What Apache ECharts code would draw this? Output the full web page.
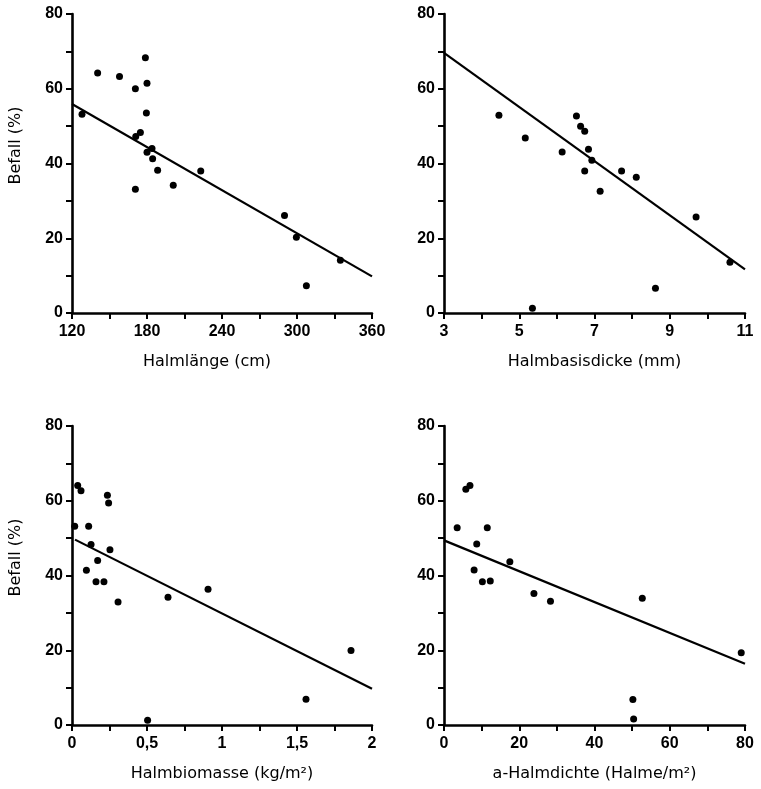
<!DOCTYPE html>
<html lang="de">
<head>
    <meta charset="UTF-8">
    <title>Befall</title>
    <style>
        html, body { margin: 0; padding: 0; background: #fff; }
        #chartContainer { width: 761px; height: 789px; }
    </style>
    <script src="https://cdnjs.cloudflare.com/ajax/libs/echarts/6.0.0/echarts.min.js"></script>
</head>
<body>
    <div id="chartContainer"></div>
    <script>
        // --- data ---
        const laengeX = [128, 140.5, 158, 170.7, 178.7, 180, 179.5, 171, 174.7, 180, 184, 184.5, 188.5, 170.7, 201, 223, 290, 299.5, 307.5, 334.7];
        const laengeY = [53.2, 64.2, 63.3, 60.0, 68.3, 61.5, 53.5, 47.2, 48.3, 43.0, 44.0, 41.3, 38.2, 33.1, 34.2, 38.0, 26.1, 20.3, 7.3, 14.1];
        const laengeFitX = [120, 360];
        const laengeFitY = [55.9, 9.8];

        const dickeX = [4.46, 5.16, 5.35, 6.14, 6.52, 6.63, 6.74, 6.84, 6.74, 6.93, 7.15, 7.72, 8.11, 8.62, 9.70, 10.6];
        const dickeY = [52.9, 46.8, 1.3, 43.1, 52.7, 50.0, 48.6, 43.8, 38.0, 40.9, 32.6, 38.0, 36.3, 6.6, 25.7, 13.6];
        const dickeFitX = [3, 11];
        const dickeFitY = [69.6, 11.7];

        const masseX = [0.018, 0.038, 0.06, 0.111, 0.127, 0.096, 0.171, 0.16, 0.213, 0.236, 0.244, 0.253, 0.307, 0.504, 0.64, 0.907, 1.56, 1.86];
        const masseY = [53.2, 64.1, 62.7, 53.2, 48.3, 41.4, 44.0, 38.3, 38.3, 61.5, 59.4, 46.9, 32.9, 1.3, 34.2, 36.3, 6.9, 19.9];
        const masseFitX = [0.02, 2];
        const masseFitY = [49.6, 9.7];

        const dichteX = [3.5, 5.8, 6.9, 8.7, 8.0, 10.2, 11.5, 12.3, 17.5, 23.9, 28.3, 50.2, 50.4, 52.7, 79.0];
        const dichteY = [52.8, 63.1, 64.1, 48.4, 41.5, 38.3, 52.8, 38.5, 43.7, 35.2, 33.1, 6.8, 1.6, 33.9, 19.3];
        const dichteFitX = [0, 80];
        const dichteFitY = [49.4, 16.4];

        const yTicks = [0, 20, 40, 60, 80];
        const xNames = ['Halmlänge (cm)', 'Halmbasisdicke (mm)', 'Halmbiomasse (kg/m²)', 'a-Halmdichte (Halme/m²)'];
        const yName = 'Befall (%)';

        const font = 'Liberation Sans';
        const titleFont = 'DejaVu Sans';

        function pairs(xs, ys) {
            return xs.map((x, i) => [x, ys[i]]);
        }

        const axisLine = { lineStyle: { color: '#000', width: 2.6 } };
        const axisTick = { inside: false, length: 6, lineStyle: { color: '#000', width: 2 } };

        // labels only every second tick
        function xAxis(idx, min, max, step, every, name, namePad, dec) {
            return {
                type: 'value', gridIndex: idx, min: min, max: max, interval: step,
                splitLine: { show: false },
                axisLine: axisLine, axisTick: axisTick,
                axisLabel: {
                    color: '#000', fontFamily: font, fontSize: 16, fontWeight: 'bold', margin: 11,
                    showMinLabel: true, showMaxLabel: true,
                    formatter: v => {
                        const k = Math.round((v - min) / step);
                        if (k % every !== 0) return '';
                        return dec ? String(+v.toFixed(2)).replace('.', ',') : String(v);
                    }
                },
                name: name, nameLocation: 'middle', nameGap: 41,
                nameTextStyle: { color: '#000', fontFamily: titleFont, fontSize: 16, padding: namePad }
            };
        }

        function yAxis(idx, withName) {
            return {
                type: 'value', gridIndex: idx, min: 0, max: 80, interval: 10,
                splitLine: { show: false },
                axisLine: axisLine, axisTick: axisTick,
                axisLabel: {
                    color: '#000', fontFamily: font, fontSize: 16, fontWeight: 'bold', margin: 9,
                    formatter: v => yTicks.indexOf(v) >= 0 ? String(v) : ''
                },
                name: withName ? yName : '', nameLocation: 'middle', nameGap: 48,
                nameTextStyle: { color: '#000', fontFamily: titleFont, fontSize: 16, padding: [0, 0, 0, 36] }
            };
        }

        function scatter(idx, xs, ys) {
            return {
                type: 'scatter', xAxisIndex: idx, yAxisIndex: idx,
                data: pairs(xs, ys), symbol: 'circle', symbolSize: 7,
                itemStyle: { color: '#000', opacity: 1 }, silent: true
            };
        }

        function fit(idx, xs, ys) {
            return {
                type: 'line', xAxisIndex: idx, yAxisIndex: idx,
                data: pairs(xs, ys), showSymbol: false, symbol: 'none',
                lineStyle: { color: '#000', width: 2.2 }, silent: true
            };
        }

        const option = {
            animation: false,
            backgroundColor: '#fff',
            grid: [
                { left: 72, top: 14, width: 300, height: 299 },
                { left: 444, top: 14, width: 301, height: 299 },
                { left: 72, top: 426, width: 300, height: 299 },
                { left: 444, top: 426, width: 301, height: 299 }
            ],
            xAxis: [
                xAxis(0, 120, 360, 30, 2, xNames[0], [0, 30, 0, 0], false),
                xAxis(1, 3, 11, 1, 2, xNames[1], 0, false),
                xAxis(2, 0, 2, 0.25, 2, xNames[2], 0, true),
                xAxis(3, 0, 80, 10, 2, xNames[3], 0, false)
            ],
            yAxis: [yAxis(0, true), yAxis(1, false), yAxis(2, true), yAxis(3, false)],
            series: [
                scatter(0, laengeX, laengeY), fit(0, laengeFitX, laengeFitY),
                scatter(1, dickeX, dickeY), fit(1, dickeFitX, dickeFitY),
                scatter(2, masseX, masseY), fit(2, masseFitX, masseFitY),
                scatter(3, dichteX, dichteY), fit(3, dichteFitX, dichteFitY)
            ]
        };

        var myChart = echarts.init(document.getElementById('chartContainer'));
        myChart.setOption(option);
    </script>
</body>
</html>
